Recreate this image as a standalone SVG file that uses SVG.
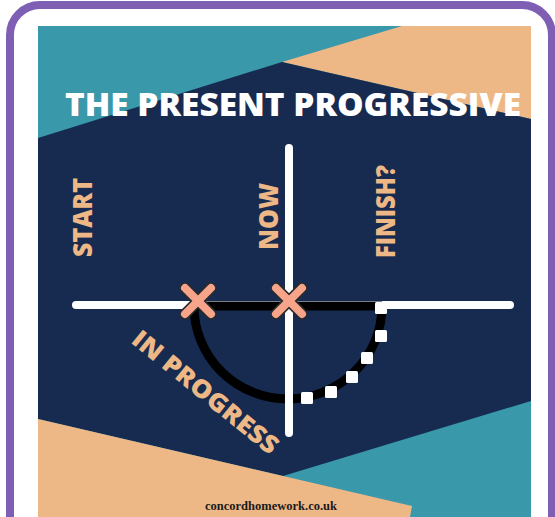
<svg xmlns="http://www.w3.org/2000/svg" width="555" height="517" viewBox="0 0 555 517">
<style>
.lbl{font-family:"Open Sans","Lato",sans-serif;font-weight:800;fill:#EEB886}
.title{font-family:"Open Sans","Lato",sans-serif;font-weight:800;fill:#FFFFFF}
.wl{stroke:#FFFFFF;stroke-width:8;stroke-linecap:round;fill:none}
.bl{stroke:#000000;stroke-width:9;fill:none}
.xo{stroke:#2A2A2A;stroke-width:11;stroke-linecap:round}
.xi{stroke:#F6A48A;stroke-width:8;stroke-linecap:round}
.sq{fill:#FFFFFF}
</style>
<defs>
<g id="xmark">
<line class="xo" x1="-13" y1="-13" x2="13" y2="13"/>
<line class="xo" x1="13" y1="-13" x2="-13" y2="13"/>
<line class="xi" x1="-13" y1="-13" x2="13" y2="13"/>
<line class="xi" x1="13" y1="-13" x2="-13" y2="13"/>
</g>
<rect id="dot" x="-6" y="-6" width="12" height="12" rx="1.5"/>
</defs>
<rect x="0" y="0" width="555" height="517" fill="#FFFFFF"/>
<g id="frame">
<rect x="10" y="5" width="542" height="560" rx="30" fill="#FFFFFF" stroke="#7E5FB4" stroke-width="8"/>
</g>
<g id="background">
<rect x="38" y="26" width="493" height="491" fill="#3A98AB"/>
<polygon points="402,26 531,26 531,119 282,62" fill="#EEB886"/>
<polygon points="38,138 282,62 531,119 531,401 283,476 38,419" fill="#172B51"/>
<polygon points="38,419 412,506 410,517 38,517" fill="#EEB886"/>
</g>
<g id="title">
<text class="title" x="65" y="116" font-size="32" textLength="456" lengthAdjust="spacingAndGlyphs">THE PRESENT PROGRESSIVE</text>
</g>
<g id="connectors">
<line class="wl" x1="76" y1="305" x2="510" y2="305"/>
<line class="bl" x1="198" y1="306" x2="382" y2="306"/>
<path class="bl" d="M194,306 A94,93 0 0 0 382,306"/>
<line class="wl" x1="289" y1="148" x2="289" y2="433"/>
</g>
<g id="progress-dots">
<use href="#dot" class="sq" x="381" y="308"/>
<use href="#dot" class="sq" x="381" y="336"/>
<use href="#dot" class="sq" x="367" y="358"/>
<use href="#dot" class="sq" x="352" y="377"/>
<use href="#dot" class="sq" x="331" y="392"/>
<use href="#dot" class="sq" x="307" y="398"/>
</g>
<g id="start-mark">
<use href="#xmark" x="198" y="301"/>
</g>
<g id="now-mark">
<use href="#xmark" x="289" y="301"/>
</g>
<g id="label-start">
<text class="lbl" font-size="26" text-anchor="middle" textLength="79" lengthAdjust="spacingAndGlyphs" transform="translate(92,217.5) rotate(-90)">START</text>
</g>
<g id="label-now">
<text class="lbl" font-size="26" text-anchor="middle" textLength="67" lengthAdjust="spacingAndGlyphs" transform="translate(278,216.5) rotate(-90)">NOW</text>
</g>
<g id="label-finish">
<text class="lbl" font-size="26" text-anchor="middle" textLength="93" lengthAdjust="spacingAndGlyphs" transform="translate(395,211.5) rotate(-90)">FINISH?</text>
</g>
<g id="label-progress">
<text class="lbl" font-size="25" text-anchor="middle" textLength="180" lengthAdjust="spacingAndGlyphs" transform="translate(200,399) rotate(39)">IN PROGRESS</text>
</g>
<g id="footer">
<text x="271" y="510" font-family="'Liberation Serif','DejaVu Serif',serif" font-weight="700" font-size="12.5" fill="#1A1A1A" text-anchor="middle" textLength="132" lengthAdjust="spacingAndGlyphs">concordhomework.co.uk</text>
</g>
</svg>
